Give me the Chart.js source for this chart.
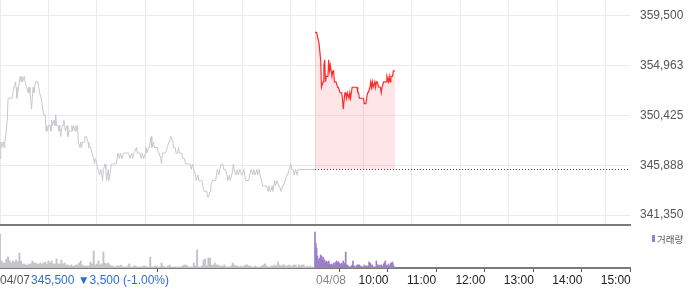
<!DOCTYPE html>
<html>
<head>
<meta charset="utf-8">
<script src="https://cdn.jsdelivr.net/npm/chart.js@4.4.1/dist/chart.umd.min.js"></script>
<style>
  html, body { margin: 0; padding: 0; background: #fff; }
  #wrap { position: relative; width: 700px; height: 289px; }
  #priceBox { position: absolute; left: 0; top: 0; width: 700px; height: 227px; }
  #volBox { position: absolute; left: 0; top: 226px; width: 700px; height: 63px; }
</style>
</head>
<body>
<div id="wrap">
  <div id="priceBox"><canvas id="priceChart"></canvas></div>
  <div id="volBox"><canvas id="volChart"></canvas></div>
</div>
<script>
// minutes after 09:00, previous session (04/07)
const prevMinutes = [
  0,1,2,4,5,6,7,9,10,15, 16,17,18,19,20,21,22,23,25,26,
  27,28,30,31,32,33,35,36,37,38, 39,40,41,42,43,44,47,48,49,51,
  52,53,54,56,57,58,59,60,62,63, 64,65,67,68,69,70,72,73,74,75,
  77,78,79,80,81,83,84,85,86,88, 89,90,91,93,94,95,96,97,99,100,
  101,102,104,105,106,107,109,110,111,112, 114,115,116,117,118,120,121,122,123,125,
  126,127,128,130,131,132,133,134,135,137, 138,139,142,144,146,148,149,151,153,154,
  156,158,159,161,163,164,166,167,169,170, 172,173,175,176,178,180,181,182,184,185,
  186,187,188,190,191,192,193,195,196,197, 199,200,201,204,205,207,209,210,211,212,
  214,215,216,217,218,220,221,222,223,225, 226,227,228,230,232,233,235,237,238,240,
  242,243,245,246,248,250,251,253,255,256, 257,258,260,261,263,265,267,269,271,272,
  274,276,277,279,281,282,284,285,287,289, 290,292,294,295,297,299,300,302,303,304,
  306,308,309,311,313,314,316,318,319,321, 322,324,325,327,328,330,332,333,335,337,
  338,340,341,343,345,346,348,350,351,353, 355,356,358,360,361,363,364,366,368,369,
  371,373,383,390
];
const prevPrices = [
  346500,348000,347500,348000,347500,348000,348500,350000,352000,352000,
  352000,353000,353000,353500,353000,352000,352500,353000,354000,353500,
  354000,353500,354000,353500,353500,353000,352500,353000,352500,352000,
  351000,352000,353000,352500,353000,353500,353500,353000,352500,352000,
  351500,351500,350500,350500,349000,349500,349000,349500,349500,349000,
  350000,349500,350000,349500,350500,349500,349500,349000,349500,348500,
  349500,349500,350000,349500,349000,349500,348500,349000,349000,349000,
  349500,349000,349500,349000,349500,349000,349500,348000,347500,348000,
  347500,348000,348000,348500,348500,348500,348000,347500,347500,347500,
  347000,347000,346500,346000,346500,346000,345500,345500,345000,345500,
  345000,344500,345500,346000,345500,344500,345000,345500,344500,345500,
  346000,346000,346000,346000,347000,346500,347000,346500,347000,347000,
  347000,347000,347000,346500,347000,346500,347000,347000,347500,347000,
  347000,347000,346500,347000,346500,347000,347500,347000,347500,347500,
  348000,348500,347500,348000,347500,347500,347500,347500,347000,347000,
  346500,346000,347000,347000,347000,347500,348000,348000,348500,348500,
  348000,347500,347500,347500,347000,347000,347500,347000,347000,347000,
  346500,346500,346500,346000,346000,346000,346000,345500,346000,345500,
  345000,344500,345000,344500,344500,344500,344000,343500,343500,343500,
  343000,343000,343500,344000,344500,344500,344500,345500,345000,345500,
  346000,346000,345500,345500,345000,344500,345000,344500,345000,346000,
  345500,345000,345500,345000,345500,345000,345000,345500,345000,344500,
  344500,344500,345000,345500,345000,345500,345000,345500,345000,345500,
  345000,344500,344000,344000,344000,344000,343500,344000,343500,344000,
  343500,344500,344000,344500,344000,344000,343500,344000,344000,344500,
  345000,345000,345500,346000,345500,345500,345000,345500,345000,345500,
  345500,345500,345500,345500
];

// minutes after 09:00, current session (04/08)
const todayMinutes = [
  0,2,5,7,8,10,11,12,13,14, 16,17,18,19,21,22,23,24,26,27,
  28,29,31,32,33,34,35,37,38,39, 40,42,43,44,45,46,48,49,50,52,
  53,54,55,57,59,60,61,63,64,65, 66,68,69,70,71,72,74,75,76,77,
  79,80,81,82,83,85,87,88,89,91, 92,93,94,96,97,99
];
const todayPrices = [
  358000,358000,357000,355500,353000,353500,355000,355500,353500,354000,
  354000,355500,354500,355000,354000,354500,354500,353500,353500,353500,
  353000,353000,352500,352500,352500,352000,351000,352500,352500,352000,
  352500,352000,352500,352000,352500,353000,353000,353000,353000,353000,
  352500,352500,352000,352000,352000,352000,351500,351500,352000,352500,
  352500,353000,353500,353000,353500,353000,353500,353000,353500,353500,
  353000,353000,353000,352500,353000,353500,353500,353500,354000,353500,
  354000,353500,354000,354000,354500,354500
];

const prevClose = 345500;
const prevChange = -3500;
const prevChangePct = -1.00;

// volume, previous session every 2 minutes
const prevVolume = [
  34,7,5,5,9,11,7,5,7,6, 8,6,15,7,4,4,3,3,4,4,
  7,5,5,4,4,5,4,5,6,4, 7,5,7,4,4,9,4,4,8,4,
  5,3,3,2,3,2,2,3,3,5, 7,3,2,2,2,2,6,4,17,3,
  4,7,3,4,16,5,4,5,3,2, 2,1,2,2,2,3,1,1,1,2,
  4,1,1,2,2,1,1,1,1,2, 2,1,1,11,1,1,2,2,1,1,
  5,2,1,1,2,3,1,1,1,1, 1,1,1,2,3,3,2,1,1,1,
  5,2,18,1,1,2,8,9,2,10, 10,3,3,5,3,3,2,2,2,3,
  1,1,1,2,5,3,2,2,1,2, 1,2,3,3,2,2,1,1,2,1,
  1,1,2,3,4,2,1,1,2,2, 3,2,6,3,2,3,3,2,2,3,
  2,2,3,3,1,3,2,3,3,1, 2,1,2,1,1
];
// volume, current session every minute
const todayVolume = [
  36,25,20,12,7,9,10,13,12,8, 11,9,7,5,7,4,6,7,4,3,
  4,3,3,5,3,5,6,7,5,6, 5,3,4,5,3,7,3,5,16,3,
  3,2,1,1,1,2,3,7,2,2, 1,1,3,3,3,3,1,2,1,1,
  1,3,1,2,2,1,2,6,5,4, 1,3,1,1,1,1,7,3,3,1,
  3,1,3,2,1,4,5,7,3,2, 2,4,1,3,5,5,6,3,1,1
];

const priceTicks = [341350, 345888, 350425, 354963, 359500];
const gridMinutes = [0, 60, 120, 180, 240, 300, 360, 390, 450, 510, 570, 630, 690, 750];
const labelMinutes = [0, 390, 450, 510, 570, 630, 690, 750];
const labelTexts = ["04/07", "04/08", "10:00", "11:00", "12:00", "13:00", "14:00", "15:00"];

const DAY = 390;
Chart.defaults.font.family = "'Liberation Sans', Arial, sans-serif";

const priceChart = new Chart(document.getElementById("priceChart"), {
  type: "line",
  data: {
    datasets: [
      {
        label: "04/07",
        data: prevMinutes.map((m, i) => ({ x: m, y: prevPrices[i] })),
        borderColor: "#c6c8ce",
        borderWidth: 1,
        pointRadius: 0,
      },
      {
        label: "04/08",
        data: todayMinutes.map((m, i) => ({ x: DAY + m, y: todayPrices[i] })),
        borderColor: "#ff2b2b",
        borderWidth: 1.2,
        pointRadius: 0,
        fill: { value: prevClose },
        backgroundColor: "rgba(245,30,50,0.11)",
      },
      {
        label: "close",
        data: [{ x: DAY, y: prevClose }, { x: 2 * DAY, y: prevClose }],
        borderColor: "#444",
        borderWidth: 1,
        borderDash: [1, 2],
        pointRadius: 0,
      },
    ],
  },
  options: {
    responsive: true,
    maintainAspectRatio: false,
    animation: false,
    devicePixelRatio: 1,
    layout: { padding: 0, autoPadding: false },
    plugins: { legend: { display: false }, tooltip: { enabled: false } },
    scales: {
      x: {
        type: "linear",
        min: 0,
        max: 2 * DAY,
        afterBuildTicks: s => { s.ticks = gridMinutes.map(v => ({ value: v })) },
        ticks: { display: false },
        grid: { color: "#ebebeb", drawTicks: false },
        border: { display: true, color: "#7a7a7a", width: 2 },
        afterFit: s => { s.height = 2 },
      },
      y: {
        position: "right",
        min: 340438,
        max: 360959,
        afterBuildTicks: s => { s.ticks = priceTicks.map(v => ({ value: v })) },
        ticks: {
          padding: 10,
          color: "#555",
          font: { size: 12 },
          callback: v => v.toLocaleString("en-US"),
        },
        grid: { color: "#ebebeb", drawTicks: false },
        border: { display: false },
        afterFit: s => { s.width = 70; s.paddingTop = 0; s.paddingBottom = 0 },
      },
    },
  },
});

// bottom labels, price summary and volume legend
const labelPlugin = {
  id: "bottomLabels",
  afterDraw(chart) {
    const ctx = chart.ctx
    const xs = chart.scales.x
    const y = 55
    ctx.save()
    ctx.font = "12px 'Liberation Sans', Arial, sans-serif"
    ctx.textBaseline = "middle"
    ctx.textAlign = "left"
    labelMinutes.forEach((m, i) => {
      const px = xs.getPixelForValue(m)
      const isDate = labelTexts[i].indexOf("/") > 0
      ctx.fillStyle = i === 0 ? "#555" : isDate ? "#888" : "#222"
      ctx.fillText(labelTexts[i], isDate ? px + (i === 0 ? 0 : 1) : px - 5, y)
    })
    const sx = xs.getPixelForValue(0) + ctx.measureText(labelTexts[0]).width + 1
    const arrow = prevChange < 0 ? "▼" : "▲"
    const summary = prevClose.toLocaleString("en-US") + " " + arrow +
      Math.abs(prevChange).toLocaleString("en-US") + " (" + prevChangePct.toFixed(2) + "%)"
    ctx.fillStyle = "#2e6fd2"
    ctx.fillText(summary, sx, y)

    // legend
    const ds = chart.data.datasets[1]
    ctx.fillStyle = ds.backgroundColor
    ctx.fillRect(652, 9, 3, 7)
    ctx.fillStyle = "#555"
    ctx.font = "9.5px 'Noto Sans CJK KR', sans-serif"
    ctx.fillText(ds.label, 657, 13)
    ctx.restore()
  },
}

const volChart = new Chart(document.getElementById("volChart"), {
  type: "bar",
  data: {
    datasets: [
      {
        label: "prev",
        data: prevVolume.map((v, i) => ({ x: i * 2, y: v })),
        backgroundColor: "#c4c4c8",
        barThickness: 1.3,
        grouped: false,
      },
      {
        label: "거래량",
        data: todayVolume.map((v, i) => ({ x: DAY + i, y: v })),
        backgroundColor: "#9a7fc9",
        barThickness: 1,
        grouped: false,
      },
    ],
  },
  options: {
    responsive: true,
    maintainAspectRatio: false,
    animation: false,
    devicePixelRatio: 1,
    layout: { padding: { top: 1 }, autoPadding: false },
    plugins: { legend: { display: false }, tooltip: { enabled: false } },
    scales: {
      x: {
        type: "linear",
        offset: false,
        min: 0,
        max: 2 * DAY,
        afterBuildTicks: s => { s.ticks = labelMinutes.map(v => ({ value: v })) },
        ticks: { display: false },
        grid: { drawOnChartArea: false, drawTicks: true, tickLength: 4, color: "#555", tickColor: "#555" },
        border: { display: true, color: "#7a7a7a", width: 2 },
        afterFit: s => { s.height = 21 },
      },
      y: {
        position: "right",
        min: 0,
        max: 41,
        ticks: { display: false },
        grid: { display: false },
        border: { display: false },
        afterFit: s => { s.width = 70 },
      },
    },
  },
  plugins: [labelPlugin],
});
</script>
</body>
</html>
